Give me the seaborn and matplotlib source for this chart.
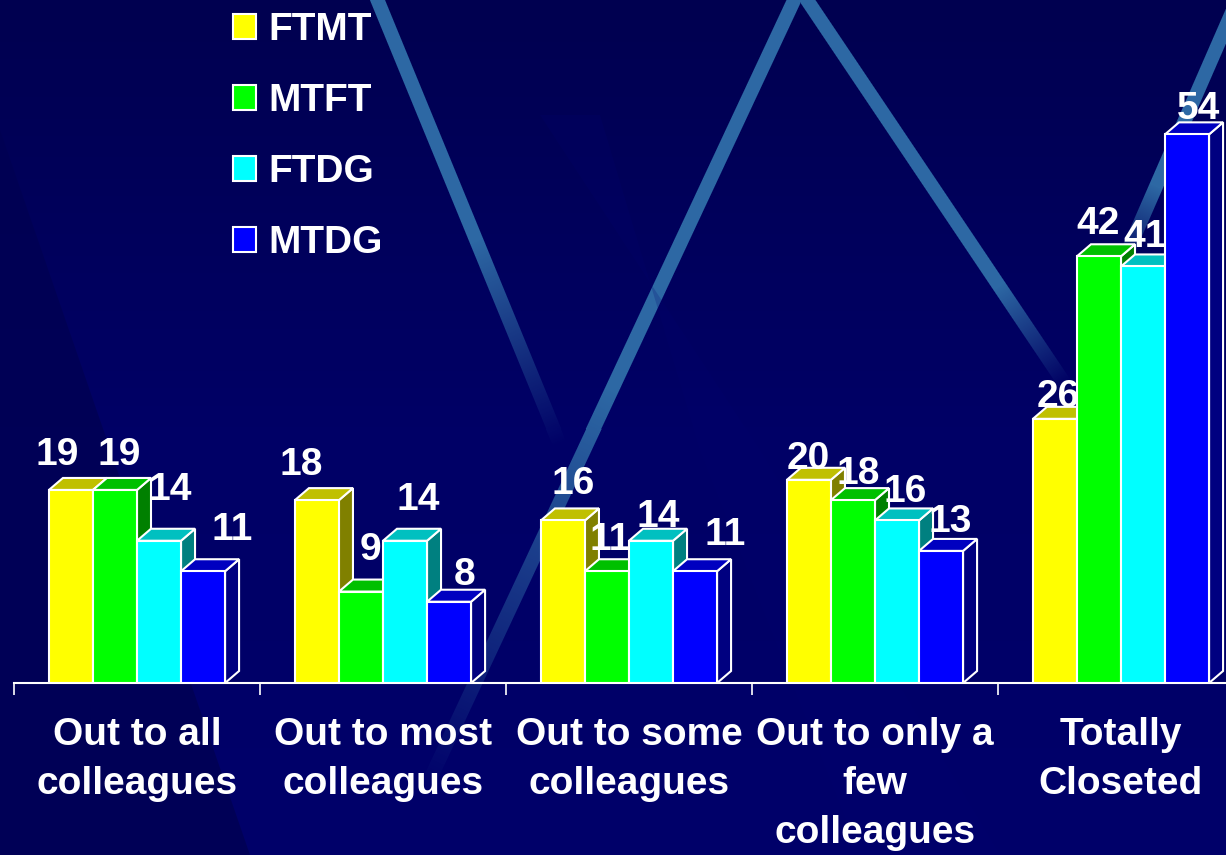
import matplotlib
matplotlib.use('Agg')
import matplotlib.pyplot as plt
import seaborn as sns
import pandas as pd
import numpy as np
from matplotlib.patches import Polygon
from matplotlib.colors import LinearSegmentedColormap, to_rgb

categories = ['Out to all\ncolleagues', 'Out to most\ncolleagues', 'Out to some\ncolleagues',
              'Out to only a\nfew\ncolleagues', 'Totally\nCloseted']
groups = ['FTMT', 'MTFT', 'FTDG', 'MTDG']
ftmt = [19, 18, 16, 20, 26]
mtft = [19, 9, 11, 18, 42]
ftdg = [14, 14, 14, 16, 41]
mtdg = [11, 8, 11, 13, 54]

front_colors = ['#ffff00', '#00ff00', '#00ffff', '#0000ff']
top_colors = ['#c0c000', '#00c000', '#00c0c0', '#0000c0']
side_colors = ['#808000', '#008000', '#008080', '#000080']

# value label nudges in pixels (x, y above bar top), one row per series
label_nudge_x = [[-14, -16, 10, -1, 3],
                 [4, 9, 3, 5, -1],
                 [11, 13, 7, 8, 2],
                 [29, 16, 30, 9, 11]]
label_nudge_y = [[35, 35, 36, 21, 22],
                 [35, 42, 31, 26, 32],
                 [51, 41, 24, 28, 29],
                 [41, 27, 36, 29, 25]]

df = pd.DataFrame({
    'category': categories * 4,
    'group': np.repeat(groups, len(categories)),
    'value': ftmt + mtft + ftdg + mtdg,
})

sns.set_theme(style='white')
plt.rcParams['font.family'] = ['Liberation Sans', 'DejaVu Sans']
plt.rcParams['font.weight'] = 'bold'

W, H = 1226, 855
fs = 28
fig = plt.figure(figsize=(W / 100, H / 100), dpi=100)
fig.patch.set_facecolor('#000062')

# background: gradient, faint wedges and light diagonal streaks
bg = fig.add_axes([0, 0, 1, 1], zorder=0)
bg.set_xlim(0, W)
bg.set_ylim(H, 0)
bg.axis('off')
grad = np.linspace(0, 1, 200).reshape(-1, 1)
bg.imshow(grad, extent=[0, W, H, 0], aspect='auto',
          cmap=LinearSegmentedColormap.from_list('bgc', ['#000050', '#000066', '#00006a']))
bg.fill([0, 0, 90, 250], [130, H, H, H], color='#000052', lw=0, alpha=0.8)
bg.fill([540, 600, 700, 860, 1000, 760], [115, 115, 450, 855, 855, 450],
        color='#000070', lw=0, alpha=0.2)

yy, xx = np.mgrid[0:H, 0:W] + 0.5
glow = np.zeros((H, W))


def streak(x0, y0, x1, y1, fade, width=14):
    global glow
    L = np.hypot(x1 - x0, y1 - y0)
    ux, uy = (x1 - x0) / L, (y1 - y0) / L
    px, py = xx - x0, yy - y0
    t = (px * ux + py * uy) / L
    dist = np.abs(-px * uy + py * ux)
    a = np.clip(width / 2 + 0.5 - dist, 0, 1)
    f = np.clip(1 - (t - fade) / (1 - fade), 0, 1)
    glow = np.maximum(glow, a * f * (t <= 1))


streak(375, -5, 560, 445, fade=0.55)
streak(797, -5, 425, 790, fade=0.5)
streak(803, -5, 1065, 385, fade=0.75)
streak(1240, -5, 1120, 270, fade=0.7)
rgba = np.zeros((H, W, 4))
rgba[..., :3] = to_rgb('#2d68a4')
rgba[..., 3] = glow
bg.imshow(rgba, extent=[0, W, H, 0], aspect='auto', interpolation='nearest')

# main chart
px_per_unit = 10.16
ax = fig.add_axes([14 / W, (H - 683) / H, 1230 / W, 683 / H], zorder=1)
ax.patch.set_alpha(0)
sns.barplot(data=df, x='category', y='value', hue='group', palette=front_colors,
            saturation=1, width=0.716, edgecolor='white', linewidth=1.5,
            legend=False, ax=ax)
ax.set_xlim(-0.5, 4.5)
ax.set_ylim(0, 683 / px_per_unit)

dx = 14 / 246
dy = 12 / px_per_unit
for k, cont in enumerate(ax.containers):
    for i, bar in enumerate(cont):
        x, w, h = bar.get_x(), bar.get_width(), bar.get_height()
        bar.set_zorder(3 + 2 * k + 1)
        side = Polygon([(x + w, 0), (x + w + dx, dy), (x + w + dx, h + dy), (x + w, h)],
                       closed=True, facecolor=side_colors[k], edgecolor='white', lw=1.5,
                       zorder=3 + 2 * k)
        top = Polygon([(x, h), (x + dx, h + dy), (x + w + dx, h + dy), (x + w, h)],
                      closed=True, facecolor=top_colors[k], edgecolor='white', lw=1.5,
                      zorder=3 + 2 * k)
        ax.add_patch(side)
        ax.add_patch(top)
        ax.annotate(f'{h:.0f}', (x + w / 2, h),
                    xytext=(label_nudge_x[k][i], label_nudge_y[k][i]),
                    textcoords='offset pixels', ha='center', va='center',
                    color='white', fontsize=fs, fontweight='bold', zorder=30,
                    annotation_clip=False)

ax.set_xlabel('')
ax.set_ylabel('')
ax.set_yticks([])
for s in ['left', 'right', 'top']:
    ax.spines[s].set_visible(False)
ax.spines['bottom'].set_color('white')
ax.spines['bottom'].set_linewidth(1.5)
ax.set_xticks(range(len(categories)))
ax.set_xticklabels(categories)
ax.set_xticks(np.arange(-0.5, len(categories), 1), minor=True)
ax.tick_params(axis='x', which='major', length=0, pad=24.5, labelsize=fs,
               labelcolor='white')
ax.tick_params(axis='x', which='minor', length=8.6, width=1.2, color='white',
               direction='out', bottom=True)
for t in ax.get_xticklabels():
    t.set_fontweight('bold')
    t.set_linespacing(1.46)

fig.legend(handles=ax.containers, labels=groups, loc='upper left',
           bbox_to_anchor=(233 / W, 1 - 12 / H), frameon=False,
           prop={'weight': 'bold', 'size': fs}, labelcolor='white',
           handlelength=0.6, handleheight=0.6, handletextpad=0.3,
           labelspacing=0.9, borderpad=0, borderaxespad=0)

fig.savefig('out.png', dpi=100, facecolor=fig.get_facecolor())
